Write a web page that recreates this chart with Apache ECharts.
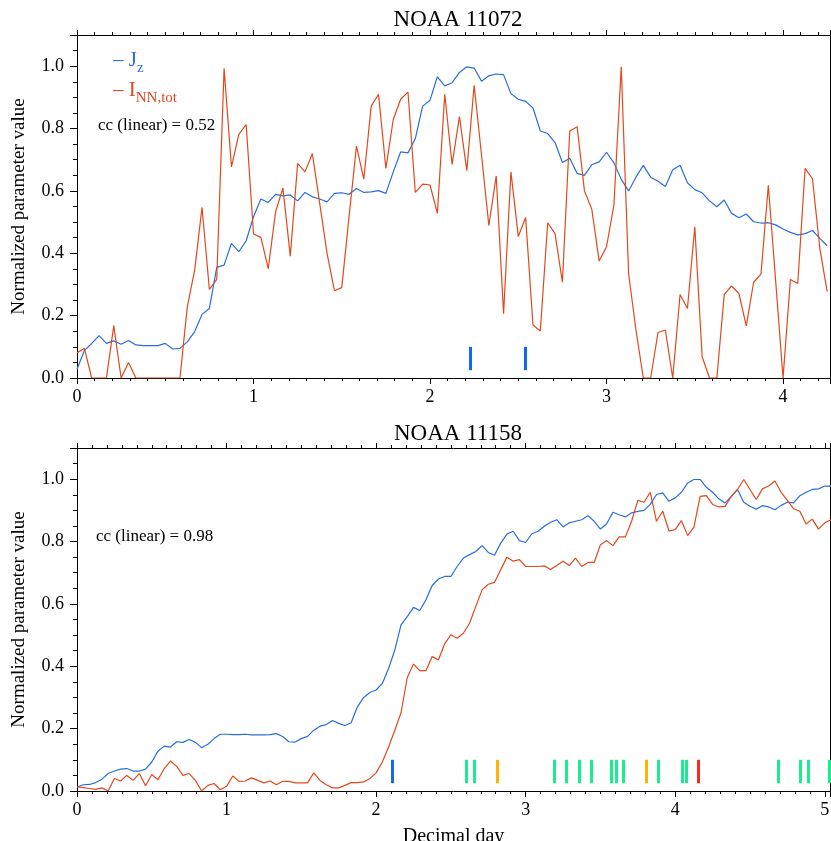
<!DOCTYPE html>
<html>
<head>
<meta charset="utf-8">
<script src="https://cdn.jsdelivr.net/npm/echarts@6/dist/echarts.min.js"></script>
<style>
  html, body { margin: 0; padding: 0; background: #fff; }
  #chart { width: 831px; height: 841px; }
</style>
</head>
<body>
<div id="chart"></div>
<script>
// hourly samples, day 0 = start of each panel
const hourStep = 1 / 24;

// NOAA 11072
const jzTop = [
  0.028, 0.088, 0.111, 0.136, 0.111, 0.119, 0.108, 0.120, 0.106, 0.104,
  0.104, 0.104, 0.111, 0.093, 0.095, 0.116, 0.149, 0.204, 0.223, 0.355,
  0.362, 0.432, 0.405, 0.440, 0.517, 0.574, 0.563, 0.589, 0.584, 0.587,
  0.568, 0.595, 0.581, 0.574, 0.565, 0.592, 0.594, 0.589, 0.608, 0.595,
  0.597, 0.601, 0.592, 0.661, 0.725, 0.722, 0.768, 0.872, 0.891, 0.966,
  0.937, 0.947, 0.980, 0.998, 0.994, 0.952, 0.969, 0.975, 0.973, 0.912,
  0.894, 0.887, 0.866, 0.792, 0.784, 0.755, 0.691, 0.705, 0.656, 0.650,
  0.684, 0.693, 0.724, 0.690, 0.637, 0.600, 0.644, 0.682, 0.644, 0.631,
  0.614, 0.668, 0.682, 0.626, 0.604, 0.594, 0.568, 0.549, 0.571, 0.528,
  0.514, 0.526, 0.501, 0.497, 0.498, 0.491, 0.478, 0.467, 0.459, 0.463,
  0.473, 0.448, 0.424
];
const innTop = [
  0.081, 0.095, 0, 0, 0, 0.168, 0, 0.050, 0, 0,
  0, 0, 0, 0, 0, 0.229, 0.346, 0.547, 0.284, 0.316,
  0.993, 0.677, 0.781, 0.813, 0.462, 0.451, 0.351, 0.533, 0.609, 0.391,
  0.688, 0.661, 0.720, 0.560, 0.400, 0.280, 0.290, 0.520, 0.744, 0.638,
  0.872, 0.910, 0.672, 0.829, 0.894, 0.917, 0.595, 0.622, 0.619, 0.528,
  0.910, 0.685, 0.838, 0.665, 0.939, 0.715, 0.489, 0.648, 0.206, 0.661,
  0.454, 0.515, 0.170, 0.151, 0.498, 0.463, 0.307, 0.792, 0.806, 0.600,
  0.541, 0.375, 0.421, 0.554, 0.998, 0.335, 0.154, 0, 0, 0.146,
  0.154, 0, 0.268, 0.223, 0.485, 0.068, 0, 0, 0.268, 0.295,
  0.271, 0.167, 0.307, 0.333, 0.618, 0.310, 0, 0.316, 0.303, 0.672,
  0.639, 0.416, 0.277
];
const flareDaysTop = [2.227, 2.54];
const flareClassTop = ['B', 'B'];

// NOAA 11158
const jzBottom = [
  0.013, 0.020, 0.021, 0.027, 0.038, 0.056, 0.064, 0.070, 0.072, 0.064,
  0.064, 0.070, 0.093, 0.128, 0.144, 0.141, 0.158, 0.156, 0.165, 0.156,
  0.139, 0.150, 0.168, 0.182, 0.182, 0.181, 0.181, 0.182, 0.180, 0.180,
  0.180, 0.181, 0.184, 0.175, 0.158, 0.157, 0.168, 0.175, 0.195, 0.208,
  0.213, 0.226, 0.217, 0.210, 0.219, 0.270, 0.300, 0.316, 0.324, 0.345,
  0.393, 0.452, 0.533, 0.559, 0.589, 0.579, 0.613, 0.659, 0.680, 0.688,
  0.688, 0.720, 0.747, 0.758, 0.768, 0.787, 0.765, 0.756, 0.795, 0.824,
  0.833, 0.803, 0.797, 0.825, 0.833, 0.849, 0.862, 0.870, 0.847, 0.860,
  0.865, 0.870, 0.883, 0.865, 0.840, 0.857, 0.894, 0.886, 0.879, 0.892,
  0.897, 0.900, 0.919, 0.951, 0.956, 0.929, 0.940, 0.958, 0.988, 0.999,
  0.999, 0.974, 0.958, 0.937, 0.924, 0.945, 0.967, 0.926, 0.913, 0.904,
  0.915, 0.911, 0.902, 0.916, 0.926, 0.924, 0.947, 0.958, 0.967, 0.969,
  0.978, 0.978
];
const innBottom = [
  0.013, 0.011, 0.008, 0.005, 0.010, 0, 0.040, 0.032, 0.050, 0.034,
  0.056, 0.017, 0.053, 0.036, 0.072, 0.096, 0.079, 0.050, 0.056, 0.034,
  0, 0.018, 0.024, 0.004, 0.015, 0.048, 0.031, 0.032, 0.042, 0.034,
  0.026, 0.032, 0.020, 0.031, 0.031, 0.026, 0.026, 0.026, 0.058, 0.034,
  0.020, 0.010, 0.010, 0.018, 0.027, 0.027, 0.029, 0.040, 0.058, 0.093,
  0.141, 0.195, 0.251, 0.364, 0.407, 0.386, 0.386, 0.431, 0.420, 0.472,
  0.501, 0.490, 0.506, 0.538, 0.592, 0.645, 0.663, 0.669, 0.710, 0.750,
  0.737, 0.742, 0.720, 0.720, 0.720, 0.722, 0.710, 0.723, 0.737, 0.723,
  0.747, 0.720, 0.733, 0.733, 0.790, 0.803, 0.787, 0.815, 0.815, 0.865,
  0.932, 0.926, 0.958, 0.865, 0.897, 0.834, 0.838, 0.867, 0.819, 0.846,
  0.945, 0.947, 0.919, 0.911, 0.913, 0.945, 0.967, 0.999, 0.967, 0.935,
  0.969, 0.978, 0.994, 0.958, 0.932, 0.905, 0.897, 0.856, 0.872, 0.840,
  0.860, 0.870
];
const flareDaysBottom = [
  2.108, 2.603, 2.659, 2.812, 3.19, 3.27, 3.36, 3.44, 3.574, 3.607,
  3.654, 3.805, 3.886, 4.048, 4.072, 4.153, 4.686, 4.833, 4.89, 5.03
];
const flareClassBottom = [
  'B', 'C', 'C', 'M', 'C', 'C', 'C', 'C', 'C', 'C',
  'C', 'M', 'C', 'C', 'C', 'X', 'C', 'C', 'C', 'C'
];

const ccTop = 0.52;
const ccBottom = 0.98;

const flareColor = { B: '#1268f5', C: '#19ee8c', M: '#ffb400', X: '#ff2a1a' };
const blue = '#2a6edc';
const red = '#e2481c';
const serif = 'Liberation Serif';

function toPoints(values) {
  return values.map((v, i) => [i * hourStep, v]);
}

function flareLines(days, classes) {
  return days.map((d, i) => [
    { coord: [d, 0.025], lineStyle: { color: flareColor[classes[i]] } },
    { coord: [d, 0.1] }
  ]);
}

const chart = echarts.init(document.getElementById('chart'));

function xLabel(v) {
  return Math.abs(v - Math.round(v)) < 1e-6 ? String(Math.round(v)) : '';
}
function yLabel(v) {
  const k = v * 5;
  return (Math.abs(k - Math.round(k)) < 1e-6 && v < 1.05) ? v.toFixed(1) : '';
}

function bottomX(gridIndex, max, withName) {
  return {
    type: 'value', gridIndex: gridIndex, position: 'bottom',
    min: 0, max: max, interval: 1,
    name: withName ? 'Decimal day' : '',
    nameLocation: 'middle', nameGap: 36,
    nameTextStyle: { fontFamily: serif, fontSize: 20, color: '#000' },
    axisLine: { show: true, onZero: false, lineStyle: { color: '#000', width: 1 } },
    axisTick: { show: true, length: 6, lineStyle: { color: '#000' } },
    minorTick: { show: true, splitNumber: 10, length: 3, lineStyle: { color: '#000' } },
    axisLabel: { fontFamily: serif, fontSize: 18, color: '#000', margin: 10, formatter: xLabel },
    splitLine: { show: false }
  };
}
function topX(gridIndex, max) {
  return {
    type: 'value', gridIndex: gridIndex, position: 'top',
    min: 0, max: max, interval: 1,
    axisLine: { show: true, onZero: false, lineStyle: { color: '#000', width: 1 } },
    axisTick: { show: true, length: 5, lineStyle: { color: '#000' } },
    minorTick: { show: true, splitNumber: 10, length: 3, lineStyle: { color: '#000' } },
    axisLabel: { show: false },
    splitLine: { show: false }
  };
}
function leftY(gridIndex) {
  return {
    type: 'value', gridIndex: gridIndex, position: 'left',
    min: 0, max: 1.1, interval: 0.2,
    name: 'Normalized parameter value',
    nameLocation: 'middle', nameGap: 48,
    nameTextStyle: { fontFamily: serif, fontSize: 19, color: '#000' },
    axisLine: { show: true, onZero: false, lineStyle: { color: '#000', width: 1 } },
    axisTick: { show: true, length: 7, lineStyle: { color: '#000' } },
    minorTick: { show: true, splitNumber: 4, length: 4, lineStyle: { color: '#000' } },
    axisLabel: { fontFamily: serif, fontSize: 18, color: '#000', margin: 13, formatter: yLabel },
    splitLine: { show: false }
  };
}
function rightY(gridIndex) {
  return {
    type: 'value', gridIndex: gridIndex, position: 'right',
    min: 0, max: 1.1,
    axisLine: { show: true, onZero: false, lineStyle: { color: '#000', width: 1 } },
    axisTick: { show: false }, axisLabel: { show: false }, splitLine: { show: false }
  };
}

function lineSeries(values, color, xi, yi) {
  return {
    type: 'line', xAxisIndex: xi, yAxisIndex: yi,
    data: toPoints(values), showSymbol: false, symbol: 'none',
    lineStyle: { color: color, width: 1.2 }, z: 3
  };
}
function flareSeries(days, classes, xi, yi) {
  return {
    type: 'line', xAxisIndex: xi, yAxisIndex: yi, data: [], z: 4,
    markLine: {
      silent: true, symbol: ['none', 'none'], animation: false,
      label: { show: false },
      lineStyle: { width: 3, type: 'solid' },
      data: flareLines(days, classes)
    }
  };
}

const baseText = { fontFamily: serif, fontSize: 21, lineHeight: 24, verticalAlign: 'top' };
function subStyle(color) {
  return { fontFamily: serif, fontSize: 15, lineHeight: 15, padding: [11, 0, 0, 0], verticalAlign: 'top', fill: color };
}

const option = {
  animation: false,
  backgroundColor: '#fff',
  title: [
    { text: 'NOAA 11072', left: 453, top: 3, textAlign: 'center',
      textStyle: { fontFamily: serif, fontSize: 23, fontWeight: 'normal', color: '#000' } },
    { text: 'NOAA 11158', left: 453, top: 417, textAlign: 'center',
      textStyle: { fontFamily: serif, fontSize: 23, fontWeight: 'normal', color: '#000' } }
  ],
  grid: [
    { left: 77, top: 35, width: 753, height: 343, outerBoundsMode: 'none' },
    { left: 77, top: 448, width: 753, height: 343, outerBoundsMode: 'none' }
  ],
  xAxis: [bottomX(0, 4.266, false), bottomX(1, 5.035, true), topX(0, 4.266), topX(1, 5.035)],
  yAxis: [leftY(0), leftY(1), rightY(0), rightY(1)],
  series: [
    lineSeries(jzTop, blue, 0, 0),
    lineSeries(innTop, red, 0, 0),
    flareSeries(flareDaysTop, flareClassTop, 0, 0),
    lineSeries(jzBottom, blue, 1, 1),
    lineSeries(innBottom, red, 1, 1),
    flareSeries(flareDaysBottom, flareClassBottom, 1, 1)
  ],
  graphic: [
    { type: 'text', left: 113, top: 50, style: {
        text: '{m|– J}{s|z}',
        rich: { m: Object.assign({ fill: blue }, baseText), s: subStyle(blue) }
      } },
    { type: 'text', left: 113, top: 80, style: {
        text: '{m|– I}{s|NN,tot}',
        rich: { m: Object.assign({ fill: red }, baseText), s: subStyle(red) }
      } },
    { type: 'text', left: 98, top: 117, style: {
        text: 'cc (linear) = ' + ccTop.toFixed(2), fontFamily: serif, fontSize: 17, fill: '#000'
      } },
    { type: 'text', left: 96, top: 528, style: {
        text: 'cc (linear) = ' + ccBottom.toFixed(2), fontFamily: serif, fontSize: 17, fill: '#000'
      } }
  ]
};

chart.setOption(option);
</script>
</body>
</html>
